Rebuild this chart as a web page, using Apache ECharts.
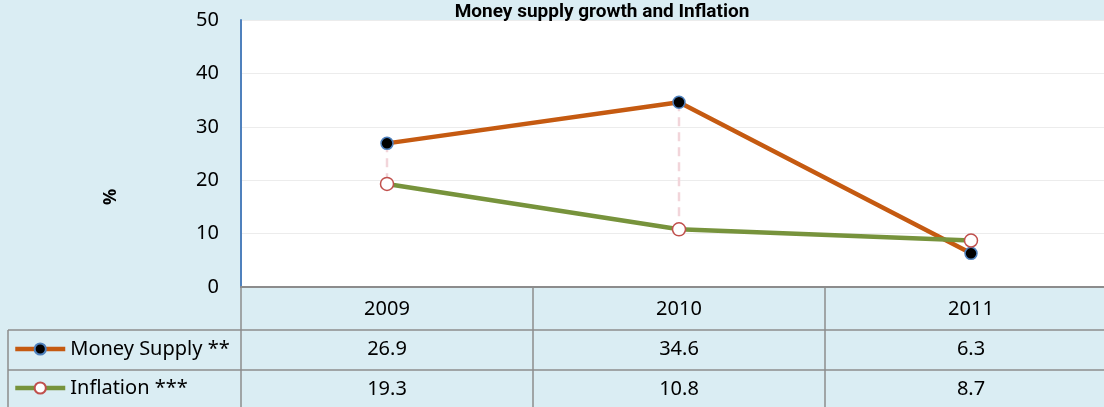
<!DOCTYPE html>
<html>
<head>
<meta charset="utf-8">
<script src="https://cdn.jsdelivr.net/npm/echarts@6/dist/echarts.min.js"></script>
<style>
  html, body { margin: 0; padding: 0; background: #daedf3; }
  #chart { width: 1104px; height: 407px; }
</style>
</head>
<body>
<div id="chart"></div>
<script>
var years = ['2009', '2010', '2011'];
var moneySupply = [26.9, 34.6, 6.3];
var inflation = [19.3, 10.8, 8.7];
var yTicks = [0, 10, 20, 30, 40, 50];

var seriesNames = ['Money Supply **', 'Inflation ***'];
var unitLabel = '%';

// grid geometry (plot area runs past the right edge like the original)
var gLeft = 241, gTop = 20, gHeight = 267, band = 292;
var gWidth = band * years.length;
var rowLines = [330, 370];

var chart = echarts.init(document.getElementById('chart'));

// table rules
var graphics = [];
rowLines.forEach(function (y) {
  graphics.push({ type: 'line', shape: { x1: 8, y1: y, x2: 1104, y2: y }, style: { stroke: '#8c8c8c', lineWidth: 1.5 } });
});
graphics.push({ type: 'line', shape: { x1: 8, y1: rowLines[0], x2: 8, y2: 407 }, style: { stroke: '#8c8c8c', lineWidth: 1.5 } });
for (var i = 0; i < years.length; i++) {
  var x = gLeft + band * i;
  graphics.push({ type: 'line', shape: { x1: x, y1: gTop + gHeight, x2: x, y2: 407 }, style: { stroke: '#8c8c8c', lineWidth: 1.5 } });
}
// y axis unit, sitting a bit below the middle like the original
graphics.push({
  type: 'text', x: 111, y: 197, rotation: Math.PI / 2,
  style: { text: unitLabel, fontSize: 18, fontWeight: 'bold', fontFamily: 'Noto Sans', fill: '#000', align: 'center', verticalAlign: 'middle' }
});

var options = {
  backgroundColor: '#daedf3',
  textStyle: { fontFamily: 'Noto Sans' },
  title: {
    text: 'Money supply growth and Inflation',
    left: 597,
    top: -2,
    textAlign: 'center',
    textStyle: { fontSize: 19, fontWeight: 'bold', color: '#000', fontFamily: 'Roboto' }
  },
  legend: {
    data: seriesNames,
    orient: 'vertical',
    left: 13,
    top: 339,
    padding: 0,
    itemWidth: 50,
    itemHeight: 14,
    itemGap: 19,
    lineStyle: { width: 4.5 },
    textStyle: { fontSize: 20, lineHeight: 20, color: '#000' }
  },
  grid: {
    left: gLeft,
    top: gTop,
    width: gWidth,
    height: gHeight,
    outerBoundsMode: 'none',
    containLabel: false,
    show: true,
    backgroundColor: '#ffffff',
    borderWidth: 0
  },
  xAxis: {
    type: 'category',
    data: years,
    boundaryGap: true,
    axisLine: { lineStyle: { color: '#8c8c8c', width: 2 } },
    axisTick: { show: false },
    axisLabel: {
      margin: 2,
      fontSize: 20,
      color: '#000',
      lineHeight: 40,
      formatter: function (v, idx) {
        return v + '\n' + moneySupply[idx] + '\n' + inflation[idx];
      }
    }
  },
  yAxis: {
    type: 'value',
    min: yTicks[0],
    max: yTicks[yTicks.length - 1],
    interval: 10,
    axisLine: { show: true, lineStyle: { color: '#4f81bd', width: 2 } },
    axisTick: { show: false },
    axisLabel: { margin: 22, fontSize: 20, color: '#000' },
    splitLine: { lineStyle: { color: '#ececec', width: 1 } }
  },
  graphic: graphics,
  series: [
    {
      type: 'custom',
      silent: true,
      z: 1,
      renderItem: function (params, api) {
        var a = api.coord([api.value(0), api.value(1)]);
        var b = api.coord([api.value(0), api.value(2)]);
        return {
          type: 'line',
          shape: { x1: a[0], y1: a[1], x2: b[0], y2: b[1] },
          style: { stroke: '#f2d5da', lineWidth: 2.5, lineDash: [9, 6] }
        };
      },
      data: years.map(function (y, i) { return [i, moneySupply[i], inflation[i]]; })
    },
    {
      name: seriesNames[0],
      type: 'line',
      z: 3,
      symbol: 'circle',
      symbolSize: 12,
      lineStyle: { color: '#c55a11', width: 4.5 },
      itemStyle: { color: '#000', borderColor: '#4f81bd', borderWidth: 1.5 },
      data: moneySupply
    },
    {
      name: seriesNames[1],
      type: 'line',
      z: 4,
      symbol: 'circle',
      symbolSize: 13,
      lineStyle: { color: '#77933c', width: 4.5 },
      itemStyle: { color: '#fff', borderColor: '#c0504d', borderWidth: 1.5 },
      data: inflation
    }
  ]
};
chart.setOption(options, true);
</script>
</body>
</html>
